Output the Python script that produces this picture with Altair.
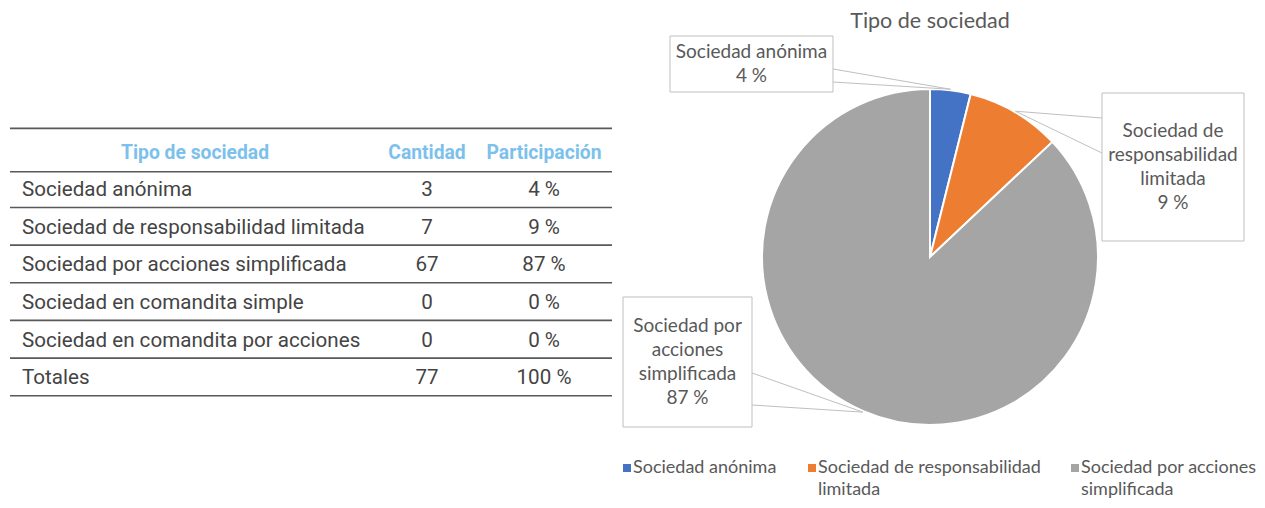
import math
import altair as alt
import pandas as pd

# ---------------- data ----------------
tipos = [
    "Sociedad anónima",
    "Sociedad de responsabilidad limitada",
    "Sociedad por acciones simplificada",
    "Sociedad en comandita simple",
    "Sociedad en comandita por acciones",
]
cantidades = [3, 7, 67, 0, 0]
participaciones = [4, 9, 87, 0, 0]
total_label = "Totales"
total_cantidad = 77
total_participacion = 100
headers = ["Tipo de sociedad", "Cantidad", "Participación"]
pie_title = "Tipo de sociedad"

# wrapped text as it appears in the chart
callout_names = ["Sociedad anónima", "Sociedad de\nresponsabilidad\nlimitada", "Sociedad por\nacciones\nsimplificada"]
legend_names = ["Sociedad anónima", "Sociedad de responsabilidad\nlimitada", "Sociedad por acciones\nsimplificada"]

# ---------------- styles / layout ----------------
colores = ["#4472C4", "#ED7D31", "#A5A5A5"]
W, H = 1249, 492
TXT = "#444444"
HEAD = "#7cc1ec"
GREY_TXT = "#595959"
BOX = "#bfbfbf"
TFONT = "Roboto"
PFONT = "Lato"

ROW0, ROW_H = 143, 37.65
NAME_X, CANT_X, PART_X, HEAD_NAME_X = 14, 419, 536, 187
RULE_X0, RULE_X1 = 2, 604

CX, CY, R = 922, 249, 168
CALLOUT_LH = 24
# callout boxes, offsets (px) from pie centre: x0, x1, y0, y1, wedge edge x, wedge y1, wedge y2
callout_layout = [
    (-260, -97, -221, -165, -97, -188, -175),
    (172, 314, -164, -16, 172, -139, -104),
    (-307, -178, 40, 170, -178, 116, 148),
]
TITLE_DY = -235
legend_sq_x = [-303, -118, 145]
legend_tx_x = [-297, -112, 151]
LEGEND_Y = 211
LEGEND_LH = 22

# ---------------- table ----------------
rows = pd.DataFrame({
    "row": list(range(1, len(tipos) + 2)),
    "name": tipos + [total_label],
    "cant": [str(c) for c in cantidades] + [str(total_cantidad)],
    "part": [f"{p} %" for p in participaciones] + [f"{total_participacion} %"],
})
head_df = pd.DataFrame({"row": [0], "h0": [headers[0]], "h1": [headers[1]], "h2": [headers[2]]})
rule_df = pd.DataFrame({"b": [-0.6, 0.55] + [i + 0.5 for i in range(1, len(tipos) + 2)]})

yscale = alt.Scale(domain=[-ROW0 / ROW_H, (H - ROW0) / ROW_H], reverse=True, nice=False, zero=False)

rules = alt.Chart(rule_df).mark_rule(color="#595959", strokeWidth=1.6).encode(
    y=alt.Y("b:Q", scale=yscale, axis=None),
    x=alt.value(RULE_X0), x2=alt.value(RULE_X1),
)


def col_text(df, field, x, align, bold=False, color=TXT, size=20.6):
    return alt.Chart(df).mark_text(
        align=align, baseline="middle", font=TFONT, fontSize=size, dy=1.5,
        fontWeight="bold" if bold else "normal", color=color,
    ).encode(y=alt.Y("row:Q", scale=yscale, axis=None), x=alt.value(x), text=f"{field}:N")


table = alt.layer(
    rules,
    col_text(head_df, "h0", HEAD_NAME_X, "center", True, HEAD, 19.3),
    col_text(head_df, "h1", CANT_X, "center", True, HEAD, 19.3),
    col_text(head_df, "h2", PART_X, "center", True, HEAD, 19.3),
    col_text(rows, "name", NAME_X, "left"),
    col_text(rows, "cant", CANT_X, "center"),
    col_text(rows, "part", PART_X, "center"),
)

# ---------------- pie ----------------
pie_names = [t for t, c in zip(tipos, cantidades) if c > 0]
pie_vals = [c for c in cantidades if c > 0]
pie_parts = [p for p, c in zip(participaciones, cantidades) if c > 0]
total = sum(pie_vals)
pie_df = pd.DataFrame({"tipo": pie_names, "valor": pie_vals, "idx": list(range(len(pie_names)))})

xs = alt.Scale(domain=[-CX, W - CX], nice=False, zero=False)
ys = alt.Scale(domain=[-CY, H - CY], reverse=True, nice=False, zero=False)
cs = alt.Scale(domain=pie_names, range=colores)

arc = alt.Chart(pie_df).mark_arc(radius=R, stroke="white", strokeWidth=2).encode(
    theta=alt.Theta("valor:Q", stack=True),
    color=alt.Color("tipo:N", scale=cs, legend=None),
    order=alt.Order("idx:Q"),
    x=alt.datum(0, scale=xs, axis=None),
    y=alt.datum(0, scale=ys, axis=None),
)

# callouts
box_rows, wedge_rows, lab_rows = [], [], []
cum = 0
for i, (name, v, p) in enumerate(zip(callout_names, pie_vals, pie_parts)):
    mid = (cum + v / 2) / total * 2 * math.pi
    cum += v
    tipx, tipy = (R + 1) * math.sin(mid), -(R + 1) * math.cos(mid)
    x0, x1, y0, y1, ex, ey1, ey2 = callout_layout[i]
    box_rows.append({"k": i, "x0": x0, "x1": x1, "y0": y0, "y1": y1})
    wedge_rows += [
        {"k": i, "o": 0, "x": ex, "y": ey1},
        {"k": i, "o": 1, "x": tipx, "y": tipy},
        {"k": i, "o": 2, "x": ex, "y": ey2},
    ]
    text = f"{name}\n{p} %"
    n = text.count("\n") + 1
    lab_rows.append({"k": i, "x": (x0 + x1) / 2,
                     "y": (y0 + y1) / 2 - (n - 1) * CALLOUT_LH / 2, "t": text})

boxes = alt.Chart(pd.DataFrame(box_rows)).mark_rect(fill="white", stroke=BOX, strokeWidth=1).encode(
    x=alt.X("x0:Q", scale=xs, axis=None), x2="x1:Q",
    y=alt.Y("y0:Q", scale=ys, axis=None), y2="y1:Q",
)
wedges = alt.Chart(pd.DataFrame(wedge_rows)).mark_line(color=BOX, strokeWidth=1).encode(
    x=alt.X("x:Q", scale=xs, axis=None), y=alt.Y("y:Q", scale=ys, axis=None),
    detail="k:N", order="o:Q",
)
labels = alt.Chart(pd.DataFrame(lab_rows)).mark_text(
    font=PFONT, fontSize=19, color=GREY_TXT, align="center", baseline="middle",
    lineBreak="\n", lineHeight=CALLOUT_LH,
).encode(x=alt.X("x:Q", scale=xs, axis=None), y=alt.Y("y:Q", scale=ys, axis=None), text="t:N")

title = alt.Chart(pd.DataFrame({"t": [pie_title], "x": [0], "y": [TITLE_DY]})).mark_text(
    font=PFONT, fontSize=21.5, color=GREY_TXT, align="center", baseline="middle",
).encode(x=alt.X("x:Q", scale=xs, axis=None), y=alt.Y("y:Q", scale=ys, axis=None), text="t:N")

leg_df = pd.DataFrame({"tipo": pie_names, "label": legend_names, "sx": legend_sq_x, "tx": legend_tx_x,
                       "y": [LEGEND_Y] * len(pie_names)})
leg_sq = alt.Chart(leg_df).mark_square(size=64, opacity=1).encode(
    x=alt.X("sx:Q", scale=xs, axis=None), y=alt.Y("y:Q", scale=ys, axis=None),
    color=alt.Color("tipo:N", scale=cs, legend=None),
)
leg_tx = alt.Chart(leg_df).mark_text(
    font=PFONT, fontSize=18, color=GREY_TXT, align="left", baseline="middle",
    lineBreak="\n", lineHeight=LEGEND_LH,
).encode(x=alt.X("tx:Q", scale=xs, axis=None), y=alt.Y("y:Q", scale=ys, axis=None), text="label:N")

pie = alt.layer(arc, wedges, boxes, labels, title, leg_sq, leg_tx)

chart = alt.layer(table, pie).resolve_scale(
    x="independent", y="independent"
).properties(
    width=W, height=H,
    autosize=alt.AutoSizeParams(type="none"),
    padding=0,
).configure_view(stroke=None)

chart.save("out.html", embed_options={"renderer": "svg", "actions": False})
